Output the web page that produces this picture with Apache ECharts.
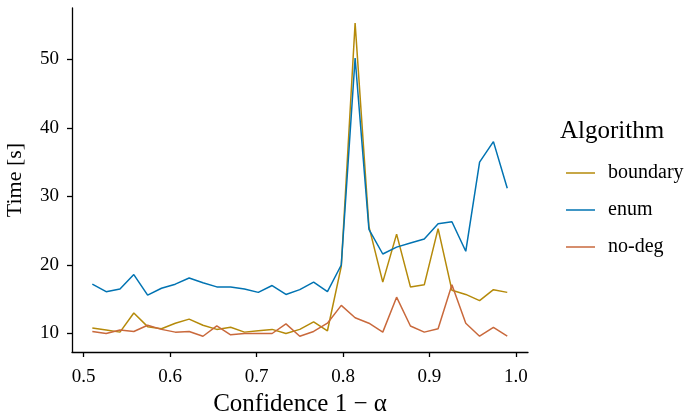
<!DOCTYPE html>
<html>
<head>
<meta charset="utf-8">
<script src="https://cdn.jsdelivr.net/npm/echarts@6/dist/echarts.min.js"></script>
<style>
html,body{margin:0;padding:0;background:#fff;}
#chart{width:688px;height:416px;}
</style>
</head>
<body>
<div id="chart"></div>
<script>
// Data
const conf = [0.51,0.526,0.542,0.558,0.574,0.59,0.606,0.622,0.638,0.654,0.67,0.686,0.702,0.718,0.734,0.75,0.766,0.782,0.798,0.814,0.83,0.846,0.862,0.878,0.894,0.91,0.926,0.942,0.958,0.974,0.99];
const boundary = [10.8,10.5,10.2,13.0,11.0,10.7,11.5,12.1,11.2,10.6,10.9,10.2,10.4,10.6,10.0,10.6,11.7,10.4,19.8,55.3,25.6,17.5,24.5,16.8,17.1,25.3,16.3,15.7,14.8,16.4,16.0];
const enumVals = [17.2,16.1,16.5,18.6,15.6,16.6,17.2,18.1,17.4,16.8,16.8,16.5,16.0,17.0,15.7,16.4,17.5,16.1,20.0,50.2,25.2,21.6,22.6,23.2,23.8,26.0,26.3,22.0,35.0,38.0,31.2];
const nodeg = [10.3,10.0,10.5,10.3,11.2,10.6,10.2,10.3,9.6,11.1,9.8,10.0,10.0,10.0,11.4,9.6,10.3,11.5,14.1,12.3,11.5,10.2,15.3,11.1,10.2,10.7,17.1,11.5,9.6,10.9,9.6];
const xTicks = [0.5,0.6,0.7,0.8,0.9,1.0];
const yTicks = [10,20,30,40,50];
const seriesNames = ['boundary','enum','no-deg'];
const colors = ['#B58A0A','#0173B2','#C9693C'];

const FONT = 'Liberation Serif';
const pair = ys => conf.map((x,i)=>[x, ys[i]]);
const seriesData = [boundary, enumVals, nodeg];

const chart = echarts.init(document.getElementById('chart'), null, {renderer:'canvas'});
chart.setOption({
  animation:false,
  backgroundColor:'#fff',
  color: colors,
  title:{
    text:'Algorithm', left:555, top:114,
    textStyle:{fontFamily:FONT, fontSize:25, fontWeight:'normal', color:'#000'}
  },
  legend:{
    orient:'vertical', left:561, top:157,
    icon:'rect', itemWidth:29, itemHeight:1.5, itemGap:15,
    data: seriesNames,
    textStyle:{fontFamily:FONT, fontSize:20, lineHeight:22, color:'#000', padding:[0,0,0,8]}
  },
  grid:{left:72, right:160, top:8, bottom:64, containLabel:false, outerBoundsMode:'none'},
  xAxis:{
    type:'value', min:0.4865, max:1.014,
    name:'Confidence 1 \u2212 \u03B1', nameLocation:'middle', nameGap:40,
    nameTextStyle:{fontFamily:FONT, fontSize:25, color:'#000'},
    axisLine:{onZero:false, lineStyle:{color:'#000', width:1.3}},
    axisTick:{inside:false, length:5, lineStyle:{color:'#000', width:1.3}, customValues:xTicks},
    axisLabel:{fontFamily:FONT, fontSize:19, color:'#000', margin:16, customValues:xTicks,
      formatter: v => v.toFixed(1)},
    splitLine:{show:false}
  },
  yAxis:{
    type:'value', min:7.3, max:57.5,
    name:'Time [s]', nameLocation:'middle', nameGap:46, nameRotate:90,
    nameTextStyle:{fontFamily:FONT, fontSize:22, color:'#000'},
    axisLine:{show:true, onZero:false, lineStyle:{color:'#000', width:1.3}},
    axisTick:{show:true, inside:false, length:5, lineStyle:{color:'#000', width:1.3}, customValues:yTicks},
    axisLabel:{fontFamily:FONT, fontSize:19, color:'#000', margin:13, customValues:yTicks},
    splitLine:{show:false}
  },
  series: seriesNames.map((n,i)=>({
    name:n, type:'line', data: pair(seriesData[i]),
    showSymbol:false, symbol:'none',
    lineStyle:{width:1.5, color:colors[i]},
    itemStyle:{color:colors[i]}
  }))
});
</script>
</body>
</html>
